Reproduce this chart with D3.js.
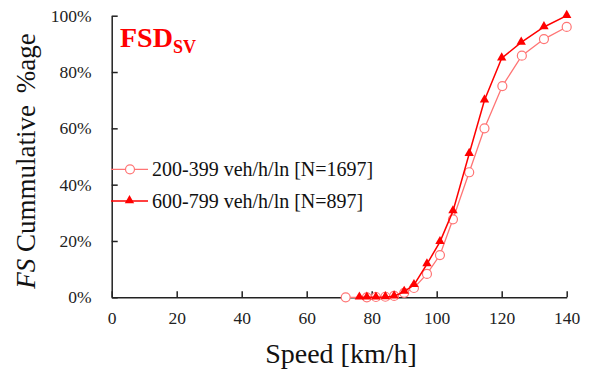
<!DOCTYPE html>
<html><head><meta charset="utf-8">
<script src="https://cdn.jsdelivr.net/npm/d3@7"></script>
</head><body style="margin:0;background:#fff"><svg id="c" width="590" height="373"></svg>
<script>
const speedsA = [72, 78.5, 81.3, 84.2, 86.9, 90, 93, 97, 101, 105, 110, 114.7, 120.2, 126.2, 133, 140];
const cumA    = [0, 0, 0.1, 0.2, 0.5, 1.6, 3.3, 8.3, 15, 27.7, 44.4, 60, 75, 85.8, 91.7, 96];
const speedsB = [76.2, 78.5, 81.3, 84.2, 86.9, 90, 93, 97, 101, 105, 110, 114.7, 120, 126, 133, 140];
const cumB    = [0, 0, 0, 0.1, 0.4, 2.0, 4.4, 11.8, 19.7, 30.6, 51, 70, 84.9, 90.5, 96, 100];
const xTicks = [0, 20, 40, 60, 80, 100, 120, 140];
const yTicks = [0, 20, 40, 60, 80, 100];
const seriesNames = ["200-399 veh/h/ln [N=1697]", "600-799 veh/h/ln [N=897]"];

const FONT = "Liberation Serif";
const svg = d3.select("#c");
const x = d3.scaleLinear().domain([0, 140]).range([111.7, 566.7]);
const y = d3.scaleLinear().domain([0, 100]).range([297.3, 15.7]);
const axisCol = "#222";

// axes
const gx = svg.append("g").attr("transform", `translate(0,${y(0)})`)
  .call(d3.axisBottom(x).tickValues(xTicks).tickSizeInner(-6).tickSizeOuter(0).tickPadding(14));
const gy = svg.append("g").attr("transform", `translate(${x(0)},0)`)
  .call(d3.axisLeft(y).tickValues(yTicks).tickSizeInner(-6).tickSizeOuter(0).tickPadding(20).tickFormat(d => d + "%"));
[gx, gy].forEach(g => {
  g.attr("font-family", FONT).attr("font-size", 17.5);
  g.select(".domain").attr("stroke", axisCol).attr("stroke-width", 1.5);
  g.selectAll(".tick line").attr("stroke", axisCol).attr("stroke-width", 1.5);
  g.selectAll(".tick text").attr("fill", "#222");
});
gx.selectAll(".tick text").attr("dy", "0.71em");

// axis titles
svg.append("text").attr("x", 341).attr("y", 363).attr("text-anchor", "middle")
  .attr("font-family", FONT).attr("font-size", 28).attr("fill", "#111").text("Speed [km/h]");
const yt = svg.append("text").attr("transform", "translate(35,161) rotate(-90)").attr("text-anchor", "middle")
  .attr("font-family", FONT).attr("font-size", 27).attr("fill", "#111");
yt.append("tspan").attr("font-style", "italic").text("FS");
yt.append("tspan").text(" Cummulative");
yt.append("tspan").attr("dx", 12).text("%age");

// title
const tt = svg.append("text").attr("x", 120).attr("y", 47).attr("fill", "#ff0000")
  .attr("font-family", FONT).attr("font-weight", "bold");
tt.append("tspan").attr("font-size", 28).text("FSD");
tt.append("tspan").attr("font-size", 18).attr("dy", 6).text("SV");

const colA = "#ff7575", colB = "#ff0000";
const dataA = speedsA.map((s, i) => [s, cumA[i]]);
const dataB = speedsB.map((s, i) => [s, cumB[i]]);
const line = d3.line().x(d => x(d[0])).y(d => y(d[1]));
const tri = d3.symbol().type(d3.symbolTriangle).size(38);

svg.append("path").datum(dataA).attr("d", line).attr("fill", "none").attr("stroke", colA).attr("stroke-width", 1.3);
svg.append("g").selectAll("circle").data(dataA).join("circle")
  .attr("cx", d => x(d[0])).attr("cy", d => y(d[1])).attr("r", 4.5)
  .attr("fill", "#fff").attr("stroke", colA).attr("stroke-width", 1.2);

svg.append("path").datum(dataB).attr("d", line).attr("fill", "none").attr("stroke", colB).attr("stroke-width", 1.5);
svg.append("g").selectAll("path").data(dataB).join("path")
  .attr("d", tri).attr("transform", d => `translate(${x(d[0])},${y(d[1]) - 0.5})`).attr("fill", colB);

// legend
const lg = svg.append("g");
const ly = [169.3, 201];
lg.append("line").attr("x1", 111).attr("x2", 148).attr("y1", ly[0]).attr("y2", ly[0]).attr("stroke", colA).attr("stroke-width", 1.3);
lg.append("circle").attr("cx", 130).attr("cy", ly[0]).attr("r", 4.5).attr("fill", "#fff").attr("stroke", colA).attr("stroke-width", 1.2);
lg.append("line").attr("x1", 111).attr("x2", 148).attr("y1", ly[1]).attr("y2", ly[1]).attr("stroke", colB).attr("stroke-width", 1.5);
lg.append("path").attr("d", tri).attr("transform", `translate(129.5,${ly[1] - 0.5})`).attr("fill", colB);
seriesNames.forEach((n, i) => {
  lg.append("text").attr("x", 152).attr("y", ly[i] + 6.5).attr("font-family", FONT).attr("font-size", 20).attr("fill", "#111").text(n);
});
</script></body></html>
